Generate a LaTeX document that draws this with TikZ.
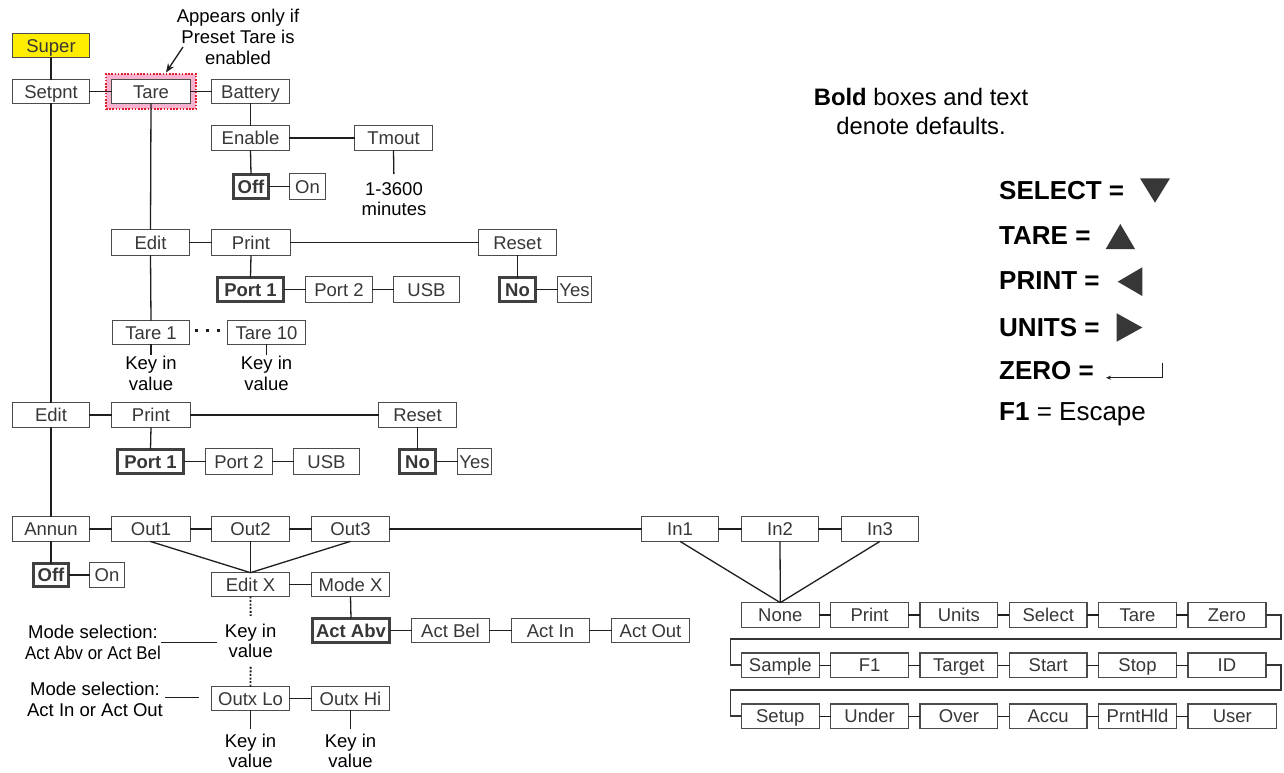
\documentclass[tikz,border=0pt]{standalone}
\usepackage{fontspec}
\setmainfont{Liberation Sans}
\usetikzlibrary{arrows.meta}
\definecolor{ln}{RGB}{30,30,30}
\definecolor{bd}{RGB}{75,75,75}
\definecolor{bt}{RGB}{55,55,55}
\definecolor{sy}{RGB}{255,237,0}
\definecolor{pk}{RGB}{246,178,206}
\definecolor{rd}{RGB}{228,30,45}
\definecolor{tri}{RGB}{55,55,55}
\newcommand\bx[7][]{\node[box,#1,minimum width={((#5)-(#3)-1.3)*1pt},minimum height={((#6)-(#4)-1.3)*1pt}] (#2) at ({((#3)+(#5))/2},{((#4)+(#6))/2}) {#7};}
\newcommand\bbx[6]{\node[bbox,minimum width={((#4)-(#2)-3)*1pt},minimum height={((#5)-(#3)-3)*1pt}] (#1) at ({((#2)+(#4))/2},{((#3)+(#5))/2}) {#6};}
\tikzset{
  box/.style={draw=bd, line width=1.3pt, fill=white, inner sep=0pt, outer sep=0pt, text=bt, text height=13.2pt, text depth=0pt, font=\fontsize{18.5}{21}\selectfont},
  bbox/.style={box, draw=ln!85, line width=3pt, font=\fontsize{18.5}{21}\selectfont\bfseries},
  conn/.style={draw=ln, line width=1.3pt},
  wrapl/.style={draw=ln!90, line width=1.8pt},
  lbl/.style={align=center, inner sep=0pt, font=\fontsize{18.5}{20.5}\selectfont},
  dotl/.style={draw=ln, line width=1.8pt, dash pattern=on 2pt off 1.6pt},
  leg/.style={anchor=base west, inner sep=0pt, font=\fontsize{26}{30}\selectfont},
}
\begin{document}
\begin{tikzpicture}[x=1pt,y=-1pt]
\useasboundingbox (0,0) rectangle (1284,773);
\fill[white] (0,0) rectangle (1284,773);
% highlight behind Tare
\node[draw=rd, fill=pk, line width=1.6pt, dash pattern=on 1.6pt off 1.6pt, minimum width=90pt, minimum height=35pt, inner sep=0pt] (hl) at (151,91.5) {};
% annotation
\node[lbl, font=\fontsize{18.5}{20.8}\selectfont] (note) at (238,36.8) {Appears only if\\Preset Tare is\\enabled};
\coordinate (atail) at (183,47);
\coordinate (ahead) at (166,72.5);
\draw[conn, -{Stealth[length=9pt,width=7pt]}] (atail) -- (ahead);
% boxes
\bx[fill=sy]{super}{12}{33}{90}{58}{Super}
\bx{setpnt}{12}{79}{90}{104}{Setpnt}
\bx{tare}{111}{79}{191}{104}{Tare}
\bx{battery}{211}{79}{290}{104}{Battery}
\bx{enable}{211}{125}{290}{151}{Enable}
\bx{tmout}{354}{125}{433}{151}{Tmout}
\bbx{offa}{232}{173}{270}{200}{Off}
\bx{ona}{289}{173}{326}{200}{On}
\bx{edita}{111}{229}{190}{256}{Edit}
\bx{printa}{211}{229}{291}{256}{Print}
\bx{reseta}{478}{229}{557}{256}{Reset}
\bbx{porta}{216}{276}{285}{303}{Port 1}
\bx{portb}{305}{276}{373}{303}{Port 2}
\bx{usba}{393}{276}{460}{303}{USB}
\bbx{noa}{498}{276}{537}{303}{No}
\bx{yesa}{557}{276}{592}{303}{Yes}
\bx{tone}{112}{320}{190}{345}{Tare 1}
\bx{tten}{227}{320}{306}{345}{Tare 10}
\bx{editb}{12}{402}{90}{428}{Edit}
\bx{printb}{111}{402}{191}{428}{Print}
\bx{resetb}{378}{402}{457}{428}{Reset}
\bbx{portc}{116}{448}{185}{475}{Port 1}
\bx{portd}{205}{448}{273}{475}{Port 2}
\bx{usbb}{293}{448}{360}{475}{USB}
\bbx{nob}{398}{448}{437}{475}{No}
\bx{yesb}{457}{448}{492}{475}{Yes}
\bx{annun}{12}{516}{90}{542}{Annun}
\bx{outa}{111}{516}{191}{542}{Out1}
\bx{outb}{211}{516}{290}{542}{Out2}
\bx{outc}{311}{516}{390}{542}{Out3}
\bx{ina}{641}{516}{719}{542}{In1}
\bx{inb}{741}{516}{819}{542}{In2}
\bx{inc}{841}{516}{919}{542}{In3}
\bbx{offb}{32}{562}{70}{588}{Off}
\bx{onb}{89}{562}{125}{588}{On}
\bx{editx}{211}{572}{290}{597}{Edit X}
\bx{modex}{311}{572}{390}{597}{Mode X}
\bbx{actabv}{311}{617}{391}{644}{Act Abv}
\bx{actbel}{411}{618}{490}{643}{Act Bel}
\bx{actin}{511}{618}{590}{643}{Act In}
\bx{actout}{611}{618}{690}{643}{Act Out}
\bx{outxlo}{211}{686}{290}{711}{Outx Lo}
\bx{outxhi}{311}{686}{390}{711}{Outx Hi}
% input function rows
\bx{ra}{740.8}{602}{819.8}{628}{None}
\bx{rb}{830.1}{602}{909.1}{628}{Print}
\bx{rc}{919.4}{602}{998.4}{628}{Units}
\bx{rd}{1008.7}{602}{1087.7}{628}{Select}
\bx{re}{1098}{602}{1177}{628}{Tare}
\bx{rf}{1187.3}{602}{1266.5}{628}{Zero}
\bx{sa}{740.8}{652.3}{819.8}{678.3}{Sample}
\bx{sb}{830.1}{652.3}{909.1}{678.3}{F1}
\bx{sc}{919.4}{652.3}{998.4}{678.3}{Target}
\bx{sd}{1008.7}{652.3}{1087.7}{678.3}{Start}
\bx{se}{1098}{652.3}{1177}{678.3}{Stop}
\bx{sf}{1187.3}{652.3}{1266.5}{678.3}{ID}
\bx{ta}{740.8}{703.3}{819.8}{729.3}{Setup}
\bx{tb}{830.1}{703.3}{909.1}{729.3}{Under}
\bx{tc}{919.4}{703.3}{998.4}{729.3}{Over}
\bx{td}{1008.7}{703.3}{1087.7}{729.3}{Accu}
\bx{te}{1098}{703.3}{1177}{729.3}{PrntHld}
\bx{tf}{1187.3}{703.3}{1277.3}{729.3}{User}
% free labels
\node[lbl] (tml) at (394,199) {1-3600\\minutes};
\node[lbl] (kone) at (151,373.5) {Key in\\value};
\node[lbl] (kten) at (266.5,373.5) {Key in\\value};
\node[lbl] (kx) at (250.7,641) {Key in\\value};
\node[lbl] (klo) at (250.5,751) {Key in\\value};
\node[lbl] (khi) at (350.5,751) {Key in\\value};
\node[lbl] (msa) at (93,642.5) {Mode selection:\\\scalebox{0.91}[1]{Act Abv or Act Bel}};
\node[lbl] (msb) at (95,699.5) {Mode selection:\\Act In or Act Out};
\coordinate (msae) at (217,642.3);
\coordinate (msbe) at (199.3,697.7);
% connectors
\draw[conn] (super.south) -- (setpnt.north);
\draw[conn] (setpnt.east) -- (tare.west);
\draw[conn] (tare.east) -- (battery.west);
\draw[conn] (battery.south) -- (enable.north);
\draw[conn] (enable.east) -- (tmout.west);
\draw[conn] (enable.south) -- (offa.north);
\draw[conn] (offa.east) -- (ona.west);
\draw[conn, shorten >=8pt] (tmout.south) -- (tml.north);
\draw[conn] (setpnt.south) -- (editb.north);
\draw[conn] (editb.south) -- (annun.north);
\draw[conn] (tare.south) -- (edita.north);
\draw[conn] (edita.south) -- (tone.north);
\draw[conn] (edita.east) -- (printa.west);
\draw[conn] (printa.east) -- (reseta.west);
\draw[conn] (printa.south) -- (porta.north);
\draw[conn] (porta.east) -- (portb.west);
\draw[conn] (portb.east) -- (usba.west);
\draw[conn] (reseta.south) -- (noa.north);
\draw[conn] (noa.east) -- (yesa.west);
\draw[ln, line width=3pt, dash pattern=on 3pt off 8.2pt] ([xshift=5.2pt,yshift=1.8pt]tone.east) -- ([xshift=-6.4pt,yshift=1.8pt]tten.west);
\draw[conn, shorten >=1.5pt] (tone.south) -- (kone.north);
\draw[conn, shorten >=1.5pt] (tten.south) -- (kten.north);
\draw[conn] (editb.east) -- (printb.west);
\draw[conn] (printb.east) -- (resetb.west);
\draw[conn] (printb.south) -- (portc.north);
\draw[conn] (portc.east) -- (portd.west);
\draw[conn] (portd.east) -- (usbb.west);
\draw[conn] (resetb.south) -- (nob.north);
\draw[conn] (nob.east) -- (yesb.west);
\draw[conn] (annun.east) -- (outa.west);
\draw[conn] (outa.east) -- (outb.west);
\draw[conn] (outb.east) -- (outc.west);
\draw[conn] (outc.east) -- (ina.west);
\draw[conn] (ina.east) -- (inb.west);
\draw[conn] (inb.east) -- (inc.west);
\draw[conn] (annun.south) -- (offb.north);
\draw[conn] (offb.east) -- (onb.west);
\draw[conn] ([xshift=-1pt]outa.south) -- (editx.north);
\draw[conn] (outb.south) -- (editx.north);
\draw[conn] (outc.south) -- (editx.north);
\draw[conn] (editx.east) -- (modex.west);
\draw[conn] (modex.south) -- (actabv.north);
\draw[conn] (actabv.east) -- (actbel.west);
\draw[conn] (actbel.east) -- (actin.west);
\draw[conn] (actin.east) -- (actout.west);
\draw[dotl, shorten >=8pt] (editx.south) -- (kx.north);
\draw[dotl, shorten <=8.5pt] (kx.south) -- (outxlo.north);
\draw[conn] (outxlo.east) -- (outxhi.west);
\draw[conn, shorten >=5pt] (outxlo.south) -- (klo.north);
\draw[conn, shorten >=5pt] (outxhi.south) -- (khi.north);
\draw[conn] (msa.east |- msae) -- (msae);
\draw[conn] ([xshift=2pt]msb.east |- msbe) -- (msbe);
\draw[conn] (ina.south) -- (ra.north);
\draw[conn] (inb.south) -- (ra.north);
\draw[conn] (inc.south) -- (ra.north);
\foreach \a/\b in {ra/rb,rb/rc,rc/rd,rd/re,re/rf,sa/sb,sb/sc,sc/sd,sd/se,se/sf,ta/tb,tb/tc,tc/td,td/te,te/tf}
  \draw[conn] (\a.east) -- (\b.west);
\draw[wrapl] (rf.east) -| (1280.7,638.7) -| (730.5,665.3) -- (sa.west);
\draw[wrapl] (sf.east) -| (1280.7,690.3) -| (730.5,716.3) -- (ta.west);
% legend
\node[align=center, inner sep=0pt, font=\fontsize{23.8}{28.4}\selectfont] (legnote) at (921,111.5) {\textbf{Bold} boxes and text\\denote defaults.};
\node[leg] (lsel) at (999,199.3) {\textbf{SELECT =}};
\node[leg] (ltare) at (999,244.3) {\textbf{TARE =}};
\node[leg] (lprint) at (999,289.3) {\textbf{PRINT =}};
\node[leg] (lunits) at (999,336) {\textbf{UNITS =}};
\node[leg] (lzero) at (999,379.3) {\textbf{ZERO =}};
\node[leg] (lfone) at (999,420.5) {\textbf{F1} = Escape};
\fill[tri] (1140,178.3) -- (1170,178.3) -- (1155,202.7) -- cycle;
\fill[tri] (1105.7,249) -- (1135,249) -- (1120.3,224) -- cycle;
\fill[tri] (1142.3,267.3) -- (1142.3,296) -- (1117.7,281.7) -- cycle;
\fill[tri] (1116.7,313.3) -- (1116.7,341.7) -- (1142.3,327.5) -- cycle;
\draw[ln, line width=1pt, -{Stealth[length=5pt,width=4pt]}] (1162.7,362.7) -- (1162.7,377.7) -- (1106,377.7);
\end{tikzpicture}
\end{document}
